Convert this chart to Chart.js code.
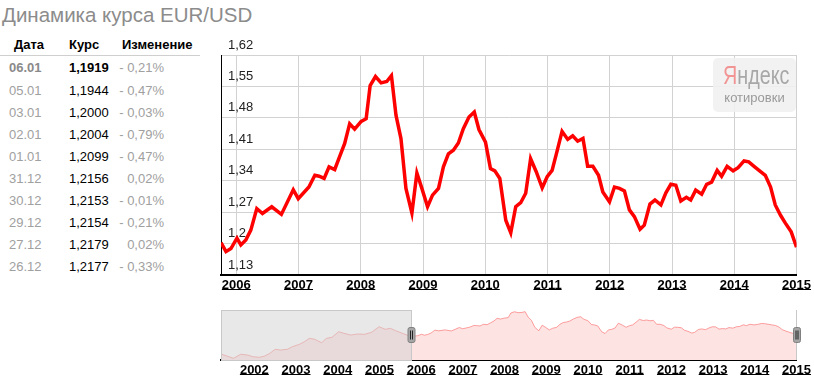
<!DOCTYPE html>
<html>
<head>
<meta charset="utf-8">
<script src="https://cdn.jsdelivr.net/npm/chart.js@4"></script>
<style>
  body { margin: 0; width: 814px; height: 385px; background: #fff; position: relative; overflow: hidden;
         font-family: Arial, "Liberation Sans", sans-serif; }
  #title { position: absolute; left: 2px; top: 5px; font-size: 20.5px; line-height: 20.5px; color: #8c8c8c; white-space: nowrap; }
  .cell { position: absolute; font-size: 13px; line-height: 22px; white-space: nowrap; }
  #headLine { position: absolute; left: 0; top: 55px; width: 200px; height: 1px; background: #cfcfcf; }
  #mainWrap { position: absolute; left: 200px; top: 30px; width: 614px; height: 270px; }
  #navWrap { position: absolute; left: 200px; top: 300px; width: 614px; height: 85px; }
  #logo { position: absolute; left: 713px; top: 58px; width: 83px; height: 54px; border-radius: 5px;
          background: rgba(240,240,240,0.88); }
  #logo .ya { position: absolute; left: 0; top: 3px; width: 83px; text-align: center; font-size: 26px; line-height: 28px;
              color: #a8a8a8; transform: scaleX(0.76); }
  #logo .ya span { color: #f39494; }
  #logo .kot { position: absolute; left: 0; top: 32px; width: 83px; text-align: center; font-size: 13px; line-height: 16px; color: #9a9a9a; }
</style>
</head>
<body>
<div id="title">Динамика курса EUR/USD</div>
<div id="table"></div>
<div id="headLine"></div>
<div id="mainWrap"><canvas id="mainChart"></canvas></div>
<div id="navWrap"><canvas id="navChart"></canvas></div>
<div id="logo"><div class="ya"><span>Я</span>ндекс</div><div class="kot">котировки</div></div>

<script>
// table on the left
const tableDates = ['06.01', '05.01', '03.01', '02.01', '01.01', '31.12', '30.12', '29.12', '27.12', '26.12'];
const tableRates = ['1,1919', '1,1944', '1,2000', '1,2004', '1,2099', '1,2156', '1,2153', '1,2154', '1,2179', '1,2177'];
const tableChanges = ['- 0,21%', '- 0,47%', '- 0,03%', '- 0,79%', '- 0,47%', '0,02%', '- 0,01%', '- 0,21%', '0,02%', '- 0,33%'];

// main chart series (decimal years / EUR-USD rate)
const dates = [2005.754, 2005.834, 2005.914, 2006.010, 2006.073, 2006.153, 2006.233, 2006.329, 2006.420, 2006.569,
  2006.724, 2006.915, 2006.995, 2007.166, 2007.262, 2007.331, 2007.411, 2007.490, 2007.581, 2007.661,
  2007.741, 2007.821, 2007.901, 2008.006, 2008.086, 2008.150, 2008.236, 2008.326, 2008.417, 2008.492,
  2008.565, 2008.645, 2008.725, 2008.821, 2008.901, 2008.981, 2009.072, 2009.152, 2009.248, 2009.327,
  2009.407, 2009.487, 2009.567, 2009.647, 2009.738, 2009.823, 2009.898, 2010.003, 2010.083, 2010.153,
  2010.233, 2010.329, 2010.409, 2010.489, 2010.569, 2010.649, 2010.728, 2010.818, 2010.914, 2010.994,
  2011.073, 2011.153, 2011.233, 2011.324, 2011.404, 2011.484, 2011.569, 2011.644, 2011.728, 2011.819,
  2011.888, 2011.995, 2012.075, 2012.155, 2012.235, 2012.315, 2012.395, 2012.486, 2012.554, 2012.645,
  2012.725, 2012.821, 2012.901, 2012.981, 2013.061, 2013.141, 2013.230, 2013.300, 2013.380, 2013.476,
  2013.556, 2013.636, 2013.725, 2013.796, 2013.885, 2013.981, 2014.061, 2014.157, 2014.232, 2014.327,
  2014.407, 2014.498, 2014.583, 2014.658, 2014.743, 2014.818, 2014.914, 2015.000];
const rates = [1.202, 1.182, 1.189, 1.212, 1.197, 1.208, 1.230, 1.278, 1.267, 1.282,
  1.265, 1.320, 1.300, 1.326, 1.352, 1.350, 1.345, 1.371, 1.365, 1.394,
  1.423, 1.467, 1.455, 1.472, 1.478, 1.552, 1.572, 1.558, 1.561, 1.574,
  1.486, 1.434, 1.323, 1.268, 1.357, 1.323, 1.282, 1.308, 1.323, 1.371,
  1.400, 1.408, 1.424, 1.456, 1.482, 1.493, 1.454, 1.426, 1.367, 1.362,
  1.345, 1.252, 1.224, 1.282, 1.291, 1.312, 1.389, 1.360, 1.324, 1.349,
  1.363, 1.406, 1.450, 1.432, 1.440, 1.428, 1.434, 1.372, 1.372, 1.352,
  1.315, 1.293, 1.326, 1.323, 1.317, 1.275, 1.260, 1.232, 1.241, 1.288,
  1.297, 1.286, 1.313, 1.332, 1.330, 1.295, 1.303, 1.297, 1.319, 1.310,
  1.332, 1.337, 1.363, 1.350, 1.372, 1.362, 1.369, 1.384, 1.382, 1.371,
  1.362, 1.352, 1.326, 1.286, 1.263, 1.246, 1.226, 1.192];

// older history, only shown in the navigator
const histDates = [2001.20, 2001.34, 2001.50, 2001.67, 2001.84, 2001.96, 2002.12, 2002.25, 2002.37, 2002.50,
  2002.62, 2002.79, 2002.91, 2003.08, 2003.20, 2003.32, 2003.45, 2003.61, 2003.73, 2003.86,
  2004.02, 2004.15, 2004.31, 2004.48, 2004.64, 2004.81, 2004.99, 2005.14, 2005.26, 2005.39,
  2005.55, 2005.72];
const histRates = [0.896, 0.864, 0.827, 0.891, 0.880, 0.853, 0.843, 0.864, 0.907, 0.971,
  0.960, 0.971, 1.013, 1.051, 1.093, 1.147, 1.131, 1.077, 1.147, 1.163,
  1.253, 1.227, 1.200, 1.216, 1.211, 1.243, 1.333, 1.291, 1.307, 1.269,
  1.227, 1.184];

const yTicks = [1.13, 1.20, 1.27, 1.34, 1.41, 1.48, 1.55, 1.62];
const mainYears = [2006, 2007, 2008, 2009, 2010, 2011, 2012, 2013, 2014, 2015];
const navYears = [2002, 2003, 2004, 2005, 2006, 2007, 2008, 2009, 2010, 2011, 2012, 2013, 2014, 2015];

const FONT = 'Arial, "Liberation Sans", sans-serif';

// build the table
const tbl = document.getElementById('table');
function cell(text, left, top, css) {
  const d = document.createElement('div');
  d.className = 'cell';
  d.textContent = text;
  d.style.left = left + 'px';
  d.style.top = top + 'px';
  Object.assign(d.style, css || {});
  tbl.appendChild(d);
}
cell('Дата', 14, 34, { fontWeight: 'bold', color: '#000' });
cell('Курс', 69, 34, { fontWeight: 'bold', color: '#000' });
cell('Изменение', 122, 34, { fontWeight: 'bold', color: '#000' });
tableDates.forEach((d, i) => {
  const top = 57.4 + i * 22.1;
  const first = i === 0;
  cell(d, 9, top, { color: first ? '#8a8a8a' : '#a0a0a0', fontWeight: first ? 'bold' : 'normal' });
  cell(tableRates[i], 69, top, { color: '#000', fontWeight: first ? 'bold' : 'normal' });
  cell(tableChanges[i], 100, top, { color: '#a0a0a0', width: '64px', textAlign: 'right' });
});

// underline the year labels like links
const underlineYears = {
  id: 'underlineYears',
  afterDraw(chart) {
    const s = chart.scales.x;
    const ctx = chart.ctx;
    ctx.save();
    ctx.font = 'bold 13px ' + FONT;
    ctx.strokeStyle = '#000';
    ctx.lineWidth = 1;
    s.ticks.forEach((t, i) => {
      const x = s.getPixelForTick(i);
      const w = ctx.measureText(String(t.label)).width;
      ctx.beginPath();
      ctx.moveTo(x - w / 2, s.top + 14.5);
      ctx.lineTo(x + w / 2, s.top + 14.5);
      ctx.stroke();
    });
    ctx.restore();
  }
};

new Chart(document.getElementById('mainChart'), {
  type: 'line',
  data: {
    datasets: [{
      data: dates.map((d, i) => ({ x: d, y: rates[i] })),
      borderColor: '#ff0000',
      borderWidth: 3.5,
      pointRadius: 0,
      tension: 0,
      fill: false
    }]
  },
  options: {
    responsive: true,
    maintainAspectRatio: false,
    animation: false,
    layout: { padding: { left: 21, right: 16, top: 25, bottom: 0 } },
    plugins: { legend: { display: false }, tooltip: { enabled: false } },
    scales: {
      x: {
        type: 'linear',
        min: dates[0],
        max: dates[dates.length - 1],
        afterBuildTicks: s => { s.ticks = mainYears.map(v => ({ value: v })); },
        afterFit: s => { s.height = 25; },
        grid: { color: '#d2d2d2', drawTicks: false },
        border: { color: '#000', width: 2 },
        ticks: {
          color: '#000', font: { family: FONT, size: 13, weight: 'bold' }, padding: 3,
          maxRotation: 0, autoSkip: false, callback: v => String(v)
        }
      },
      y: {
        min: yTicks[0],
        max: yTicks[yTicks.length - 1],
        afterBuildTicks: s => { s.ticks = yTicks.map(v => ({ value: v })); },
        afterFit: s => { s.width = 0; },
        grid: { color: '#d2d2d2', drawTicks: false },
        border: { color: '#000', width: 1 },
        ticks: {
          mirror: true, padding: 7, labelOffset: -10, color: '#222',
          font: { family: FONT, size: 13 },
          callback: v => String(Math.round(v * 100) / 100).replace('.', ',')
        }
      }
    }
  },
  plugins: [underlineYears]
});

// navigator: grey box over the hidden part, handles and right border
const navDecor = {
  id: 'navDecor',
  afterDatasetsDraw(chart) {
    const { ctx, chartArea: a } = chart;
    const s = chart.scales.x;
    const xSel = Math.round(s.getPixelForValue(dates[0])) + 0.5;
    ctx.save();
    ctx.fillStyle = 'rgba(209,209,209,0.5)';
    ctx.fillRect(a.left, a.top, xSel - a.left, a.bottom - a.top);
    ctx.strokeStyle = '#c8c8c8';
    ctx.lineWidth = 1;
    ctx.strokeRect(a.left + 0.5, a.top + 0.5, xSel - a.left - 0.5, a.bottom - a.top);
    ctx.beginPath();
    ctx.moveTo(Math.round(a.right) - 0.5, a.top);
    ctx.lineTo(Math.round(a.right) - 0.5, a.bottom);
    ctx.stroke();
    [xSel, Math.round(a.right)].forEach(hx => {
      const top = (a.top + a.bottom) / 2 - 7.5;
      ctx.fillStyle = '#a6a6a6';
      ctx.strokeStyle = '#808080';
      ctx.beginPath();
      ctx.roundRect(hx - 3.5, top, 7, 15, 2);
      ctx.fill();
      ctx.stroke();
      ctx.strokeStyle = '#222';
      ctx.beginPath();
      ctx.moveTo(hx - 1, top + 3); ctx.lineTo(hx - 1, top + 12);
      ctx.moveTo(hx + 1, top + 3); ctx.lineTo(hx + 1, top + 12);
      ctx.stroke();
    });
    ctx.restore();
  }
};

const allDates = histDates.concat(dates);
const allRates = histRates.concat(rates);

new Chart(document.getElementById('navChart'), {
  type: 'line',
  data: {
    datasets: [{
      data: allDates.map((d, i) => ({ x: d, y: allRates[i] })),
      borderColor: 'rgba(250,110,110,0.65)',
      backgroundColor: '#fee3e3',
      borderWidth: 1,
      pointRadius: 0,
      tension: 0,
      fill: 'start'
    }]
  },
  options: {
    responsive: true,
    maintainAspectRatio: false,
    animation: false,
    layout: { padding: { left: 21, right: 15, top: 10, bottom: 0 } },
    plugins: { legend: { display: false }, tooltip: { enabled: false } },
    scales: {
      x: {
        type: 'linear',
        min: histDates[0],
        max: dates[dates.length - 1],
        afterBuildTicks: s => { s.ticks = navYears.map(v => ({ value: v })); },
        afterFit: s => { s.height = 25; },
        grid: { display: false, drawTicks: false },
        border: { color: '#000', width: 2 },
        ticks: {
          color: '#000', font: { family: FONT, size: 13, weight: 'bold' }, padding: 3,
          maxRotation: 0, autoSkip: false, callback: v => String(v)
        }
      },
      y: { display: false, min: 0.8, max: 1.6 }
    }
  },
  plugins: [navDecor, underlineYears]
});
</script>
</body>
</html>
